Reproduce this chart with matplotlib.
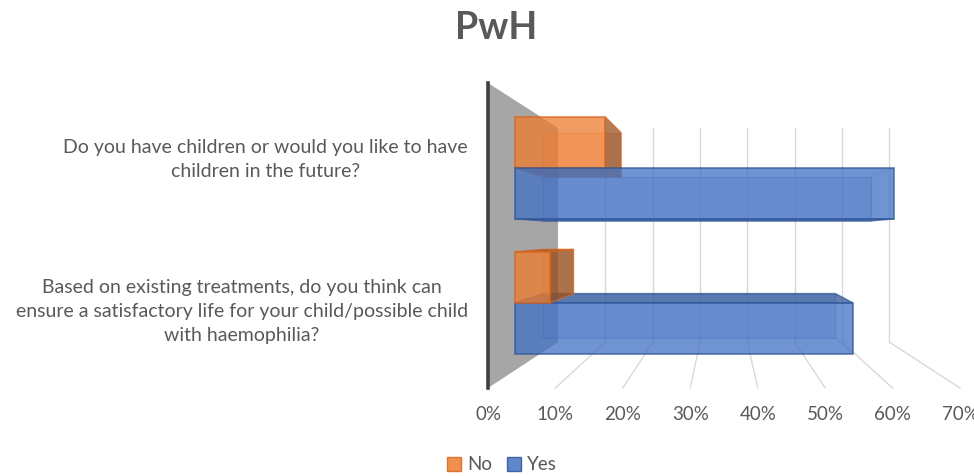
import matplotlib.pyplot as plt
from matplotlib.patches import Polygon, Patch
from matplotlib.ticker import PercentFormatter
from matplotlib.transforms import offset_copy

# chart data
questions = ["Do you have children or would you like to have\nchildren in the future?",
             "Based on existing treatments, do you think can\nensure a satisfactory life for your child/possible child\nwith haemophilia?"]
no_pct = [15.1, 5.9]
yes_pct = [63.5, 56.6]
series = ["No", "Yes"]
x_ticks = [0, 10, 20, 30, 40, 50, 60, 70]

plt.rcParams['font.family'] = ['Lato', 'DejaVu Sans']
TXT = '#595959'

# fake 3D: vanishing point in data units, depth 0 = front floor edge, 1 = back wall
VX, VY = 34.85, 1.01
Z0 = 2.356
BAR_Z = (0.306, 0.72)
BAR_H = 0.378


def proj(x, y, z):
    k = 1.0 / (1.0 + z / Z0)
    return (VX + (x - VX) * k, VY + (y - VY) * k)


def face(ax, pts, fc, alpha, ec, lw=1.0, zorder=3):
    ax.add_patch(Polygon([proj(*p) for p in pts], closed=True, facecolor=fc,
                         alpha=alpha, edgecolor=ec, lw=lw, zorder=zorder,
                         clip_on=False))


def bar3d(ax, val, y0, y1, fc, dark, ec, zorder):
    za, zb = BAR_Z
    # back, then hidden faces, then visible sides, then the front
    face(ax, [(0, y0, zb), (val, y0, zb), (val, y1, zb), (0, y1, zb)], fc, 0.28, ec, 0.8, zorder)
    face(ax, [(0, y0, za), (0, y0, zb), (0, y1, zb), (0, y1, za)], fc, 0.12, ec, 0.8, zorder)
    sides = {
        'right': ([(val, y0, za), (val, y0, zb), (val, y1, zb), (val, y1, za)], val < VX),
        'top': ([(0, y1, za), (val, y1, za), (val, y1, zb), (0, y1, zb)], y1 < VY),
        'bottom': ([(0, y0, za), (val, y0, za), (val, y0, zb), (0, y0, zb)], y0 > VY),
    }
    for pts, vis in sides.values():
        if vis:
            face(ax, pts, dark, 0.72, ec, 1.0, zorder)
        else:
            face(ax, pts, fc, 0.08, ec, 0.8, zorder)
    face(ax, [(0, y0, za), (val, y0, za), (val, y1, za), (0, y1, za)], fc, 0.74, ec, 1.2, zorder)


fig = plt.figure(figsize=(9.74, 4.76), dpi=100)
ax = fig.add_axes([488 / 974, 88 / 476, 472 / 974, 305 / 476])
ax.set_xlim(0, 70)
ax.set_ylim(0, 2)
ax.patch.set_visible(False)

# side wall
face(ax, [(0, 0, 0), (0, 2, 0), (0, 2, 1), (0, 0, 1)], '#A6A6A6', 1.0, 'none', 0, 1)

# gridlines on the back wall and across the floor
for v in x_ticks[1:]:
    xa, ya = proj(v, 0, 1)
    xb, yb = proj(v, 2, 1)
    xc, yc = proj(v, 0, 0)
    ax.plot([xa, xb], [ya, yb], color='#D9D9D9', lw=1, zorder=2, clip_on=False)
    ax.plot([xa, xc], [ya, yc], color='#D9D9D9', lw=1, zorder=2, clip_on=False)

centers = [1.5, 0.5]
orange, orange_dk, orange_ec = '#ED7D31', '#8F4A1E', '#D9651C'
blue, blue_dk, blue_ec = '#4472C4', '#2F5597', '#2F5597'

for i, c in enumerate(centers):
    bars = [(no_pct[i], c, c + BAR_H, orange, orange_dk, orange_ec),
            (yes_pct[i], c - BAR_H, c, blue, blue_dk, blue_ec)]
    # draw the bar farther from the eye level first
    bars.sort(key=lambda b: -abs((b[1] + b[2]) / 2 - VY))
    for j, (val, y0, y1, fc, dk, ec) in enumerate(bars):
        bar3d(ax, val, y0, y1, fc, dk, ec, 3 + j)

ax.spines[['top', 'right', 'bottom']].set_visible(False)
ax.spines['left'].set_color('#404040')
ax.spines['left'].set_linewidth(2.6)
ax.spines['left'].set_zorder(10)

ax.set_xticks(x_ticks)
ax.xaxis.set_major_formatter(PercentFormatter(decimals=0))
ax.tick_params(axis='x', length=0, pad=13, labelsize=13.5, labelcolor=TXT)
ax.set_yticks([])

# category labels, right aligned next to the wall
lab_tr = offset_copy(ax.get_yaxis_transform(), fig=fig, x=-20, y=0, units='dots')
for q, c in zip(questions, centers):
    ax.text(0, c, q, transform=lab_tr, ha='right', va='center', multialignment='center',
            linespacing=1.5, fontsize=14, color=TXT)

fig.text(496 / 974, 1 - 28 / 476, "PwH", ha='center', va='center',
         fontsize=27, fontweight='bold', color=TXT)

handles = [Patch(facecolor=orange, edgecolor=orange_ec, alpha=0.85),
           Patch(facecolor=blue, edgecolor=blue_ec, alpha=0.85)]
fig.legend(handles, series, loc='center', bbox_to_anchor=(502 / 974, 1 - 465 / 476),
           ncol=2, frameon=False, fontsize=13.5, labelcolor=TXT, handlelength=0.75,
           handleheight=0.75, handletextpad=0.3, columnspacing=0.8)

fig.savefig("out.png", dpi=100)
